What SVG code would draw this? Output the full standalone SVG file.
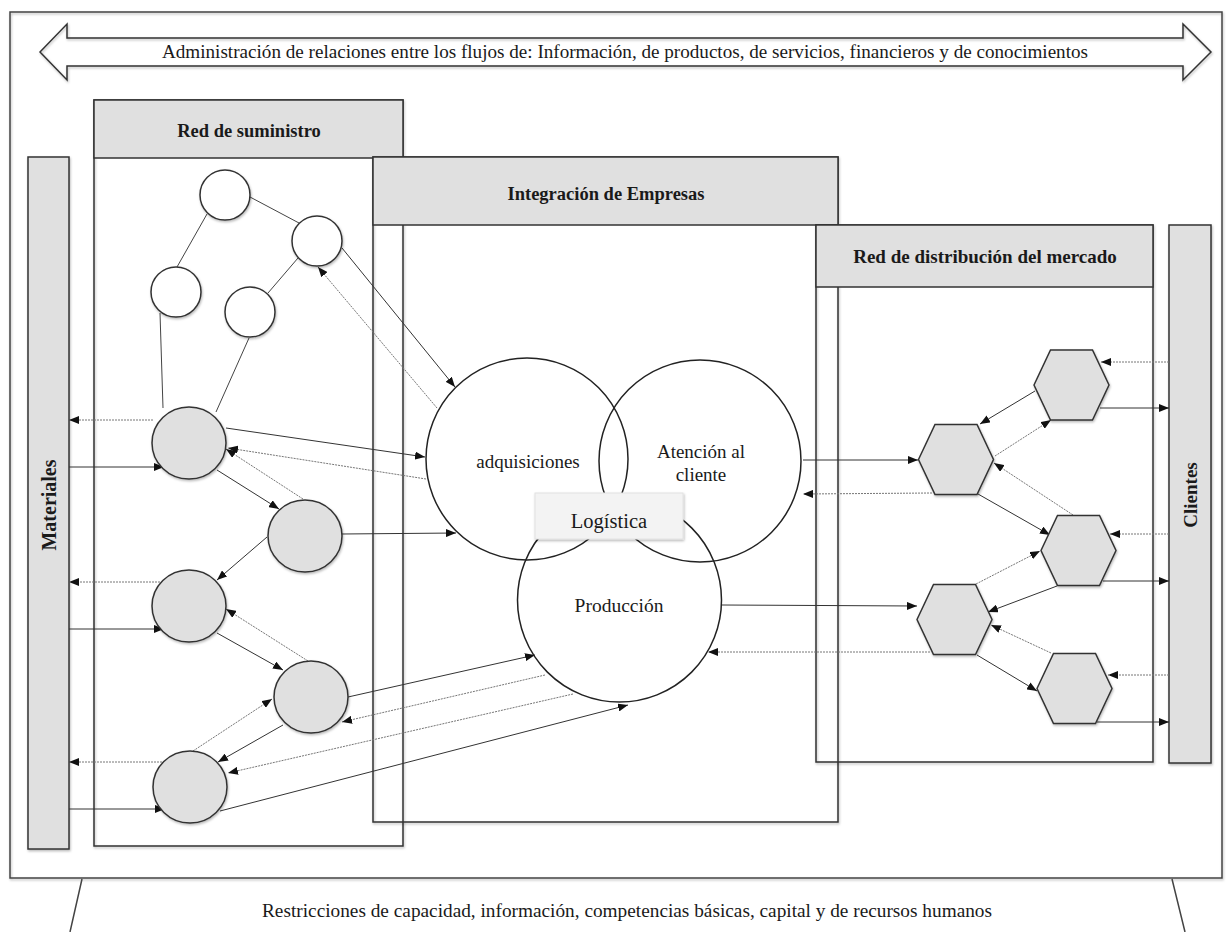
<svg xmlns="http://www.w3.org/2000/svg" width="1228" height="932" viewBox="0 0 1228 932">
  <defs>
    <filter id="sh" x="-10%" y="-10%" width="120%" height="130%">
      <feDropShadow dx="0.8" dy="1.5" stdDeviation="1.2" flood-color="#000" flood-opacity="0.28"/>
    </filter>
    <marker id="ah" viewBox="0 0 10 8" refX="10" refY="4" markerWidth="10" markerHeight="8" markerUnits="userSpaceOnUse" orient="auto">
      <path d="M0,0 L10,4 L0,8 z" fill="#111"/>
    </marker>
    <polygon id="hexa" points="-37.5,0 -21,-35 21,-35 37.5,0 21,35 -21,35"/>
  </defs>
  <style>
    .frame { fill: none; stroke: #444; stroke-width: 1.5; }
    .box { fill: none; stroke: #333; stroke-width: 1.5; }
    .hdr { fill: #e0e0e0; stroke: #333; stroke-width: 1.5; }
    .bar { fill: #e0e0e0; stroke: #333; stroke-width: 1.5; }
    .wnode { fill: #fff; stroke: #333; stroke-width: 1.5; }
    .gnode { fill: #e0e0e0; stroke: #333; stroke-width: 1.5; }
    .big { fill: none; stroke: #222; stroke-width: 1.5; }
    .tree { stroke: #444; stroke-width: 1; fill: none; }
    .sol { stroke: #333; stroke-width: 1; fill: none; marker-end: url(#ah); }
    .dot { stroke: #777; stroke-width: 1; stroke-dasharray: 2 1; fill: none; marker-end: url(#ah); }
    .t { font-family: "Liberation Serif", "Times New Roman", serif; fill: #1a1a1a; }
    .b { font-weight: bold; }
  </style>

  <rect width="1228" height="932" fill="#fff"/>

  <!-- outer frame -->
  <rect class="frame" x="10" y="12" width="1212" height="866" filter="url(#sh)"/>

  <!-- top double arrow -->
  <g id="flujos">
    <path class="box" d="M40,52 L67,24 L67,38 L1183,38 L1183,24 L1211,52 L1183,80 L1183,66 L67,66 L67,80 Z" fill="#fff" filter="url(#sh)"/>
    <text class="t" x="625" y="58" font-size="18" text-anchor="middle" textLength="926" lengthAdjust="spacingAndGlyphs">Administración de relaciones entre los flujos de: Información, de productos, de servicios, financieros y de conocimientos</text>
  </g>

  <!-- bottom trapezoid -->
  <g id="restricciones">
    <path class="frame" d="M82,879 L70,932 M1172,879 L1185,932"/>
    <text class="t" x="627" y="917" font-size="18" text-anchor="middle" textLength="730" lengthAdjust="spacingAndGlyphs">Restricciones de capacidad, información, competencias básicas, capital y de recursos humanos</text>
  </g>

  <!-- side bars -->
  <g id="materiales">
    <rect class="bar" x="28" y="157" width="41" height="692" filter="url(#sh)"/>
    <text class="t b" font-size="20" text-anchor="middle" transform="translate(56,505) rotate(-90)">Materiales</text>
  </g>
  <g id="clientes">
    <rect class="bar" x="1169" y="225" width="42" height="538" filter="url(#sh)"/>
    <text class="t b" font-size="19" text-anchor="middle" transform="translate(1197,495) rotate(-90)">Clientes</text>
  </g>

  <!-- supply network -->
  <g id="red-suministro">
    <rect class="box" x="94" y="100" width="309" height="746" filter="url(#sh)"/>
    <rect class="hdr" x="94" y="100" width="309" height="58"/>
    <text class="t b" x="249" y="137" font-size="18.5" text-anchor="middle">Red de suministro</text>
  </g>

  <!-- enterprise integration -->
  <g id="integracion">
    <rect class="box" x="373" y="157" width="465" height="665" filter="url(#sh)"/>
    <rect class="hdr" x="373" y="157" width="465" height="68"/>
    <text class="t b" x="606" y="200" font-size="18.5" text-anchor="middle">Integración de Empresas</text>
  </g>

  <!-- market distribution network -->
  <g id="red-distribucion">
    <rect class="box" x="816" y="225" width="337" height="537" filter="url(#sh)"/>
    <rect class="hdr" x="816" y="225" width="337" height="62"/>
    <text class="t b" x="985" y="263" font-size="19" text-anchor="middle">Red de distribución del mercado</text>
  </g>

  <!-- tree links between suppliers -->
  <g id="enlaces-proveedores">
    <line class="tree" x1="250" y1="197" x2="299" y2="223"/>
    <line class="tree" x1="207" y1="214" x2="177" y2="267"/>
    <line class="tree" x1="298" y1="258" x2="268" y2="293"/>
    <line class="tree" x1="160" y1="313" x2="163" y2="408"/>
    <line class="tree" x1="249" y1="338" x2="216" y2="412"/>
  </g>

  <!-- connectors -->
  <g id="conectores">
    <!-- materials side -->
    <line class="dot" x1="153" y1="420" x2="69" y2="420"/>
    <line class="sol" x1="69" y1="467" x2="164" y2="467"/>
    <line class="dot" x1="160" y1="582" x2="69" y2="582"/>
    <line class="sol" x1="69" y1="629" x2="164" y2="629"/>
    <line class="dot" x1="165" y1="762" x2="69" y2="762"/>
    <line class="sol" x1="69" y1="809" x2="165" y2="809"/>
    <!-- among suppliers -->
    <line class="sol" x1="217" y1="470" x2="279" y2="509"/>
    <line class="dot" x1="303" y1="499" x2="226" y2="449"/>
    <line class="sol" x1="267" y1="537" x2="217" y2="580"/>
    <line class="sol" x1="217" y1="633" x2="283" y2="670"/>
    <line class="dot" x1="308" y1="661" x2="226" y2="609"/>
    <line class="sol" x1="283" y1="725" x2="218" y2="762"/>
    <line class="dot" x1="193" y1="751" x2="272" y2="699"/>
    <!-- suppliers to procurement -->
    <line class="sol" x1="342" y1="248" x2="455" y2="387"/>
    <line class="dot" x1="437" y1="408" x2="318" y2="267"/>
    <line class="sol" x1="226" y1="428" x2="425" y2="457"/>
    <line class="dot" x1="426" y1="479" x2="228" y2="448"/>
    <line class="sol" x1="342" y1="534" x2="456" y2="533"/>
    <!-- suppliers to production -->
    <line class="sol" x1="348" y1="697" x2="535" y2="655"/>
    <line class="dot" x1="545" y1="675" x2="342" y2="722"/>
    <line class="dot" x1="573" y1="694" x2="228" y2="773"/>
    <line class="sol" x1="220" y1="811" x2="628" y2="705"/>
    <!-- enterprise to distribution -->
    <line class="sol" x1="803" y1="460" x2="918" y2="460"/>
    <line class="dot" x1="932" y1="493" x2="803" y2="494"/>
    <line class="sol" x1="722" y1="605" x2="917" y2="606"/>
    <line class="dot" x1="930" y1="652" x2="708" y2="652"/>
    <!-- among distributors -->
    <line class="sol" x1="1035" y1="391" x2="980" y2="424"/>
    <line class="dot" x1="995" y1="456" x2="1051" y2="420"/>
    <line class="sol" x1="978" y1="494" x2="1050" y2="535"/>
    <line class="dot" x1="1073" y1="515" x2="994" y2="463"/>
    <line class="dot" x1="976" y1="584" x2="1040" y2="551"/>
    <line class="sol" x1="1057" y1="586" x2="988" y2="612"/>
    <line class="dot" x1="1051" y1="653" x2="991" y2="625"/>
    <line class="sol" x1="977" y1="655" x2="1037" y2="691"/>
    <!-- customers side -->
    <line class="dot" x1="1169" y1="362" x2="1101" y2="362"/>
    <line class="sol" x1="1100" y1="408" x2="1169" y2="408"/>
    <line class="dot" x1="1169" y1="534" x2="1110" y2="534"/>
    <line class="sol" x1="1103" y1="581" x2="1169" y2="581"/>
    <line class="dot" x1="1169" y1="675" x2="1108" y2="675"/>
    <line class="sol" x1="1097" y1="722" x2="1169" y2="722"/>
  </g>

  <!-- upstream suppliers -->
  <g id="proveedor-1"><circle class="wnode" cx="225" cy="195" r="25" filter="url(#sh)"/></g>
  <g id="proveedor-2"><circle class="wnode" cx="317" cy="241" r="25" filter="url(#sh)"/></g>
  <g id="proveedor-3"><circle class="wnode" cx="176" cy="292" r="25" filter="url(#sh)"/></g>
  <g id="proveedor-4"><circle class="wnode" cx="250" cy="312" r="25" filter="url(#sh)"/></g>

  <!-- direct suppliers -->
  <g id="suministro-1"><ellipse class="gnode" cx="189" cy="443" rx="37" ry="36" filter="url(#sh)"/></g>
  <g id="suministro-2"><ellipse class="gnode" cx="305" cy="536" rx="37" ry="36" filter="url(#sh)"/></g>
  <g id="suministro-3"><ellipse class="gnode" cx="189" cy="606" rx="37" ry="36" filter="url(#sh)"/></g>
  <g id="suministro-4"><ellipse class="gnode" cx="311" cy="697" rx="37" ry="36" filter="url(#sh)"/></g>
  <g id="suministro-5"><ellipse class="gnode" cx="190" cy="787" rx="37" ry="36" filter="url(#sh)"/></g>

  <!-- distributors -->
  <g id="distribuidor-1"><use href="#hexa" class="gnode" x="1071.5" y="385" filter="url(#sh)"/></g>
  <g id="distribuidor-2"><use href="#hexa" class="gnode" x="956" y="459.5" filter="url(#sh)"/></g>
  <g id="distribuidor-3"><use href="#hexa" class="gnode" x="1078.5" y="550.5" filter="url(#sh)"/></g>
  <g id="distribuidor-4"><use href="#hexa" class="gnode" x="954.5" y="619.5" filter="url(#sh)"/></g>
  <g id="distribuidor-5"><use href="#hexa" class="gnode" x="1074.5" y="688.5" filter="url(#sh)"/></g>

  <!-- core functions -->
  <g id="adquisiciones">
    <circle class="big" cx="527" cy="459" r="101"/>
    <text class="t" x="528" y="468" font-size="19" text-anchor="middle">adquisiciones</text>
  </g>
  <g id="atencion">
    <circle class="big" cx="700" cy="461" r="101"/>
    <text class="t" x="701" y="458" font-size="19" text-anchor="middle">Atención al</text>
    <text class="t" x="701" y="481" font-size="19" text-anchor="middle">cliente</text>
  </g>
  <g id="produccion">
    <circle class="big" cx="619.5" cy="600" r="102"/>
    <text class="t" x="619" y="612" font-size="19.5" text-anchor="middle">Producción</text>
  </g>
  <g id="logistica">
    <rect x="535" y="493" width="148" height="46" fill="#f3f3f3" stroke="#e2e2e2" stroke-width="1" filter="url(#sh)"/>
    <text class="t" x="609" y="528" font-size="20.5" text-anchor="middle">Logística</text>
  </g>
</svg>
